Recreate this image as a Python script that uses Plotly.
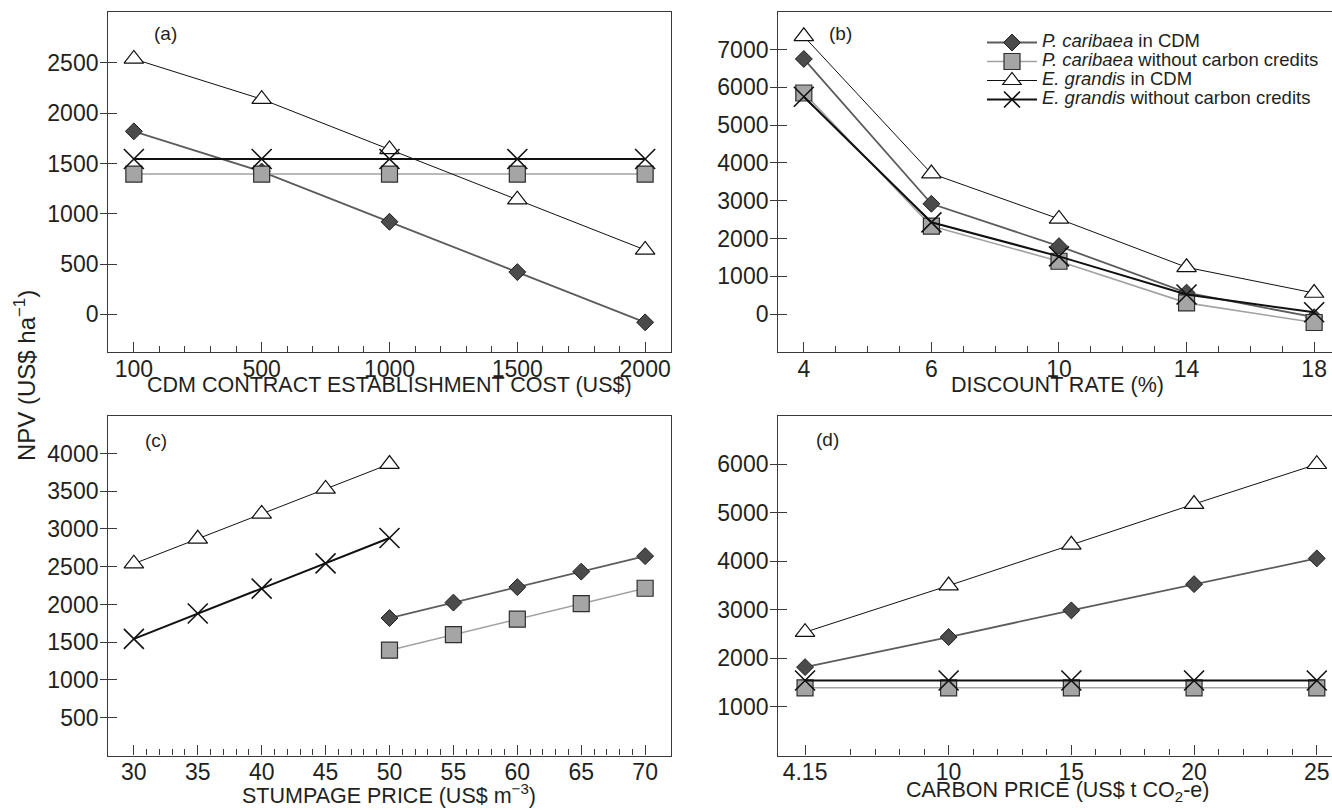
import numpy as np
import plotly.graph_objects as go

# ---------------- data ----------------
# Panel (a): CDM contract establishment cost
cost_labels = ["100", "500", "1000", "1500", "2000"]
a_pc_cdm = [1820, 1420, 920, 420, -80]
a_pc_nocc = [1395, 1395, 1395, 1395, 1395]
a_eg_cdm = [2540, 2140, 1640, 1140, 640]
a_eg_nocc = [1545, 1545, 1545, 1545, 1545]

# Panel (b): discount rate
rate_labels = ["4", "6", "10", "14", "18"]
b_pc_cdm = [6750, 2920, 1800, 570, -80]
b_pc_nocc = [5850, 2330, 1400, 300, -220]
b_eg_cdm = [7350, 3720, 2520, 1240, 560]
b_eg_nocc = [5750, 2430, 1530, 520, 50]

# Panel (c): stumpage price
stump_eg = [30, 35, 40, 45, 50]
stump_pc = [50, 55, 60, 65, 70]
c_pc_cdm = [1820, 2025, 2230, 2435, 2640]
c_pc_nocc = [1395, 1600, 1805, 2010, 2215]
c_eg_cdm = [2540, 2870, 3200, 3530, 3860]
c_eg_nocc = [1545, 1880, 2210, 2545, 2880]

# Panel (d): carbon price
carbon_price = [4.15, 10, 15, 20, 25]
carbon_labels = ["4.15", "10", "15", "20", "25"]
d_pc_cdm = [1820, 2440, 2990, 3530, 4060]
d_pc_nocc = [1395, 1395, 1395, 1395, 1395]
d_eg_cdm = [2540, 3500, 4340, 5180, 6000]
d_eg_nocc = [1545, 1545, 1545, 1545, 1545]

# tick values
a_yticks = [0, 500, 1000, 1500, 2000, 2500]
b_yticks = [0, 1000, 2000, 3000, 4000, 5000, 6000, 7000]
c_yticks = [500, 1000, 1500, 2000, 2500, 3000, 3500, 4000]
d_yticks = [1000, 2000, 3000, 4000, 5000, 6000]
c_xticks = [30, 35, 40, 45, 50, 55, 60, 65, 70]

series_names = [
    "<span style='font-size:18.5px'><i>P. caribaea</i> in CDM</span>",
    "<span style='font-size:18.5px'><i>P. caribaea</i> without carbon credits</span>",
    "<span style='font-size:18.5px'><i>E. grandis</i> in CDM</span>",
    "<span style='font-size:18.5px'><i>E. grandis</i> without carbon credits</span>",
]

# ---------------- styles ----------------
W, H = 1332, 810
FONT = "Liberation Sans, Arial, sans-serif"
TXT = "#231f20"
AXC = "#3a3a3a"

styles = [
    dict(symbol="diamond", size=13, color="#4b4b4b", lcol="#1e1e1e", lw_m=1.0, line="#5c5c5c", lw=1.8),
    dict(symbol="square", size=16, color="#a5a5a5", lcol="#2e2e2e", lw_m=1.2, line="#a2a2a2", lw=1.6),
    dict(symbol="triangle-up", size=17, color="white", lcol="#111111", lw_m=1.2, line="#111111", lw=1.0),
    dict(symbol="x-thin-open", size=20, color="#111111", lcol="#111111", lw_m=1.6, line="#111111", lw=2.0),
]

fig = go.Figure()

idx_a = list(np.arange(len(cost_labels)))
idx_b = list(np.arange(len(rate_labels)))

panels = [
    ("x", "y", [(idx_a, a_pc_cdm), (idx_a, a_pc_nocc), (idx_a, a_eg_cdm), (idx_a, a_eg_nocc)]),
    ("x2", "y2", [(idx_b, b_pc_cdm), (idx_b, b_pc_nocc), (idx_b, b_eg_cdm), (idx_b, b_eg_nocc)]),
    ("x3", "y3", [(stump_pc, c_pc_cdm), (stump_pc, c_pc_nocc), (stump_eg, c_eg_cdm), (stump_eg, c_eg_nocc)]),
    ("x4", "y4", [(carbon_price, d_pc_cdm), (carbon_price, d_pc_nocc), (carbon_price, d_eg_cdm), (carbon_price, d_eg_nocc)]),
]

for p, (xa, ya, series) in enumerate(panels):
    for s, (xs, ys) in enumerate(series):
        st = styles[s]
        fig.add_trace(go.Scatter(
            x=xs, y=ys, xaxis=xa, yaxis=ya, mode="lines+markers",
            name=series_names[s], legendgroup=str(s), showlegend=(p == 1),
            line=dict(color=st["line"], width=st["lw"]),
            marker=dict(symbol=st["symbol"], size=st["size"], color=st["color"],
                        line=dict(color=st["lcol"], width=st["lw_m"])),
            cliponaxis=False,
        ))

# empty traces to host the overlay tick axes (inner half of crossing ticks)
for k, xa in zip(range(5, 9), ["x", "x2", "x3", "x4"]):
    fig.add_trace(go.Scatter(x=[], y=[], xaxis=xa, yaxis="y%d" % k, showlegend=False, hoverinfo="skip"))

# ---------------- layout ----------------
def px_x(v):
    return v / W

def px_y(v):
    return 1 - v / H

left_dom = [px_x(108.3), px_x(670.7)]
right_dom = [px_x(778.3), 1.0]
top_dom = [px_y(352.0), px_y(11.7)]
bot_dom = [px_y(755.5), px_y(415.7)]

tickfont = dict(family=FONT, size=23, color=TXT)

def xaxis(domain, anchor, rng, tickvals, ticktext, minor_vals):
    return dict(domain=domain, anchor=anchor, range=rng, tickmode="array",
                tickvals=tickvals, ticktext=ticktext, ticks="inside", ticklen=10,
                tickwidth=1.3, tickcolor=AXC, showline=True, linecolor=AXC, linewidth=1.4,
                mirror=True, showgrid=False, zeroline=False, tickfont=tickfont,
                ticklabelstandoff=-4,
                minor=dict(tickmode="array", tickvals=minor_vals, ticks="inside",
                           ticklen=6, tickwidth=1.2, tickcolor=AXC, showgrid=False))

def yaxis(domain, anchor, rng, tickvals, mirror):
    return dict(domain=domain, anchor=anchor, range=rng, tickmode="array",
                tickvals=tickvals, ticks="outside", ticklen=7, tickwidth=1.3, tickcolor=AXC,
                showline=True, linecolor=AXC, linewidth=1.4, mirror=mirror,
                showgrid=False, zeroline=False, tickfont=tickfont, ticklabelstandoff=-3)

def yover(base, anchor, rng, tickvals):
    return dict(overlaying=base, anchor=anchor, range=rng, tickmode="array", tickvals=tickvals,
                ticks="inside", ticklen=9, tickwidth=1.3, tickcolor=AXC, showticklabels=False,
                showline=False, showgrid=False, zeroline=False, side="left")

minor_a = [round(v, 2) for v in np.arange(0, 4.0001, 0.2) if abs(v - round(v)) > 1e-6]
minor_b = [round(v, 2) for v in np.arange(0, 4.0001, 0.25) if abs(v - round(v)) > 1e-6]
minor_c = [v for v in range(30, 71) if v % 5 != 0]
minor_d = [v for v in range(5, 25) if v % 5 != 0]

rng_ya = [-375, 3010]
rng_yb = [-1000, 8000]
rng_yc = [0, 4500]
rng_yd = [0, 7000]

fig.update_layout(
    width=W, height=H, autosize=False,
    margin=dict(l=0, r=0, t=0, b=0),
    paper_bgcolor="white", plot_bgcolor="white",
    font=dict(family=FONT, color=TXT),
    xaxis=xaxis(left_dom, "y", [-0.2, 4.2], idx_a, cost_labels, minor_a),
    yaxis=yaxis(top_dom, "x", rng_ya, a_yticks, True),
    xaxis2=xaxis(right_dom, "y2", [-0.2, 4.14], idx_b, rate_labels, minor_b),
    yaxis2=yaxis(top_dom, "x2", rng_yb, b_yticks, False),
    xaxis3=xaxis(left_dom, "y3", [28, 72], c_xticks, [str(v) for v in c_xticks], minor_c),
    yaxis3=yaxis(bot_dom, "x3", rng_yc, c_yticks, True),
    xaxis4=xaxis(right_dom, "y4", [3.06, 25.62], carbon_price, carbon_labels, minor_d),
    yaxis4=yaxis(bot_dom, "x4", rng_yd, d_yticks, False),
    yaxis5=yover("y", "x", rng_ya, a_yticks),
    yaxis6=yover("y2", "x2", rng_yb, b_yticks),
    yaxis7=yover("y3", "x3", rng_yc, c_yticks),
    yaxis8=yover("y4", "x4", rng_yd, d_yticks),
    showlegend=True,
    legend=dict(x=px_x(982), y=px_y(28), xanchor="left", yanchor="top",
                font=dict(family=FONT, size=12, color=TXT),
                bgcolor="rgba(0,0,0,0)", borderwidth=0, itemwidth=50,
                tracegroupgap=0, itemclick=False, itemdoubleclick=False),
)

ann = []
# panel labels
for lab, (x, y) in zip(["(a)", "(b)", "(c)", "(d)"], [(165, 33), (840, 33), (156, 440), (827, 439)]):
    ann.append(dict(text=lab, x=px_x(x), y=px_y(y), xref="paper", yref="paper",
                    showarrow=False, xanchor="center", yanchor="middle",
                    font=dict(family=FONT, size=19, color=TXT)))
# x-axis titles
xtitles = [
    ("CDM CONTRACT ESTABLISHMENT COST (US$)", 389, 385),
    ("DISCOUNT RATE (%)", 1057, 385),
    ("STUMPAGE PRICE (US$ m<sup>\u22123</sup>)", 389, 794),
    ("CARBON PRICE (US$ t CO<sub>2</sub>-e)", 1057, 791),
]
for t, x, y in xtitles:
    ann.append(dict(text=t, x=px_x(x), y=px_y(y), xref="paper", yref="paper",
                    showarrow=False, xanchor="center", yanchor="middle",
                    font=dict(family=FONT, size=21.5, color=TXT)))
# shared y-axis title
ann.append(dict(text="NPV (US$ ha<sup>\u22121</sup>)", x=px_x(25), y=px_y(376), xref="paper", yref="paper",
                showarrow=False, textangle=-90, xanchor="center", yanchor="middle",
                font=dict(family=FONT, size=24, color=TXT)))
fig.update_layout(annotations=ann)

fig.write_html(
    "out.html",
    config={"displayModeBar": False, "staticPlot": False},
    post_script="document.body.style.margin='0px';document.body.style.overflow='hidden';",
)
